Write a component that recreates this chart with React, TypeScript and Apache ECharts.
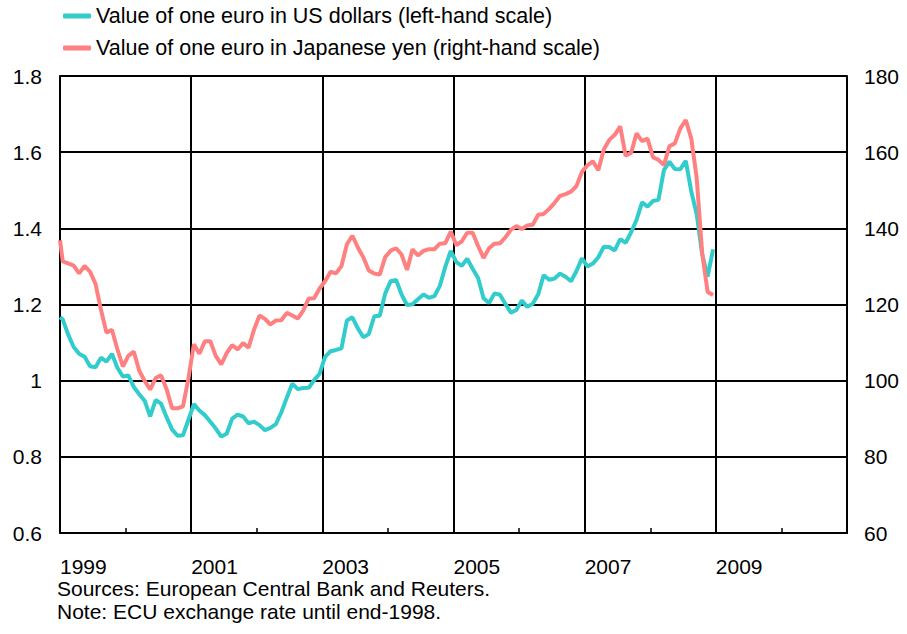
import React, { useEffect, useRef } from "react";
import * as echarts from "echarts";

// Monthly averages; first value = ECU rate at end-1998, then Jan 1999 ... Dec 2008
const usdValues: number[] = [
  1.1666,
  // 1999
  1.1608, 1.1208, 1.0883, 1.0704, 1.0628, 1.0378, 1.0353, 1.0604, 1.0501, 1.0706, 1.0338, 1.011,
  // 2000
  1.0137, 0.9834, 0.9643, 0.947, 0.906, 0.9492, 0.9397, 0.9041, 0.8721, 0.8552, 0.8564, 0.8973,
  // 2001
  0.9383, 0.9217, 0.9095, 0.892, 0.8742, 0.8532, 0.8607, 0.9005, 0.9111, 0.9059, 0.8883, 0.8924,
  // 2002
  0.8833, 0.87, 0.8758, 0.8858, 0.917, 0.9554, 0.9922, 0.9778, 0.9808, 0.9811, 1.0014, 1.0183,
  // 2003
  1.0622, 1.0773, 1.0807, 1.0848, 1.1582, 1.1663, 1.1372, 1.1139, 1.1222, 1.1692, 1.1702, 1.2286,
  // 2004
  1.2613, 1.2646, 1.2262, 1.1985, 1.2007, 1.2138, 1.2266, 1.2176, 1.2218, 1.249, 1.2991, 1.3408,
  // 2005
  1.3119, 1.3014, 1.3201, 1.2938, 1.2694, 1.2165, 1.2037, 1.2292, 1.2256, 1.2015, 1.1786, 1.1856,
  // 2006
  1.2103, 1.1938, 1.202, 1.2271, 1.277, 1.265, 1.2684, 1.2811, 1.2727, 1.2611, 1.2881, 1.3213,
  // 2007
  1.2999, 1.3074, 1.3242, 1.3516, 1.3511, 1.3419, 1.3716, 1.3622, 1.3896, 1.4227, 1.4684, 1.457,
  // 2008
  1.4718, 1.4748, 1.5527, 1.5751, 1.5557, 1.5553, 1.577, 1.4975, 1.437, 1.3322, 1.2732, 1.3449,
];

const jpyValues: number[] = [
  136.9,
  // 1999
  131.32, 130.78, 130.2, 128.16, 130.12, 128.6, 125.4, 118.61, 112.61, 113.38, 108.25, 103.72,
  // 2000
  106.53, 107.64, 102.59, 99.92, 97.67, 100.7, 101.39, 97.77, 92.75, 92.74, 93.26, 100.61,
  // 2001
  109.57, 107.08, 110.33, 110.36, 106.5, 104.3, 107.21, 109.34, 108.2, 109.86, 108.68, 113.38,
  // 2002
  117.12, 116.23, 114.75, 115.81, 115.86, 117.8, 117.11, 116.31, 118.38, 121.57, 121.65, 124.2,
  // 2003
  126.12, 128.6, 128.16, 130.12, 135.83, 138.05, 134.99, 132.38, 128.94, 128.12, 127.84, 132.43,
  // 2004
  134.13, 134.78, 133.13, 129.08, 134.48, 132.86, 134.08, 134.54, 134.51, 135.97, 136.09, 139.14,
  // 2005
  135.63, 136.55, 138.83, 138.84, 135.37, 132.22, 134.75, 135.98, 136.06, 137.66, 139.59, 140.58,
  // 2006
  139.82, 140.77, 140.96, 143.59, 143.79, 145.11, 146.7, 148.53, 148.99, 149.65, 151.11, 154.82,
  // 2007
  156.56, 157.6, 155.24, 160.68, 163.22, 164.55, 166.76, 159.05, 159.82, 164.95, 162.89, 163.55,
  // 2008
  158.68, 157.97, 156.59, 161.56, 162.31, 166.26, 168.45, 163.63, 153.2, 133.52, 123.28, 122.51,
];

const seriesNames = [
  "Value of one euro in US dollars (left-hand scale)",
  "Value of one euro in Japanese yen (right-hand scale)",
];
const xTickYears = [1999, 2001, 2003, 2005, 2007, 2009, 2011];
const leftTicks = [0.6, 0.8, 1.0, 1.2, 1.4, 1.6, 1.8];
const rightTicks = [60, 80, 100, 120, 140, 160, 180];
const footnotes = [
  "Sources: European Central Bank and Reuters.",
  "Note: ECU exchange rate until end-1998.",
];

// Period positions (decimal years): end-1998 ECU point, then each month at mid-month
function periodPosition(i: number): number {
  if (i === 0) return 1999;
  return 1999 + (i - 0.5) / 12;
}

const FONT = "'Liberation Sans', Arial, Helvetica, sans-serif";

export default function App() {
  const ref = useRef<HTMLDivElement>(null);

  useEffect(() => {
    document.body.style.margin = "0";
    if (!ref.current) return;
    const chart = echarts.init(ref.current, undefined, { renderer: "svg" });

    const usdData = usdValues.map((v, i) => [periodPosition(i), v]);
    const jpyData = jpyValues.map((v, i) => [periodPosition(i), v]);

    chart.setOption({
      animation: false,
      backgroundColor: "#ffffff",
      textStyle: { fontFamily: FONT },
      legend: {
        orient: "vertical",
        left: 58,
        top: 0,
        itemWidth: 28,
        itemHeight: 5,
        itemGap: 10,
        icon: "roundRect",
        textStyle: { fontSize: 21.5, lineHeight: 21, color: "#000", fontFamily: FONT },
        data: seriesNames,
      },
      grid: {
        left: 60,
        right: 60,
        top: 76,
        bottom: 101,
        containLabel: false,
        outerBoundsMode: "none",
      },
      xAxis: {
        type: "value",
        min: xTickYears[0],
        max: xTickYears[xTickYears.length - 1],
        interval: 2,
        axisLine: { show: true, lineStyle: { color: "#000", width: 2 } },
        axisTick: { show: true, inside: true, length: 5, lineStyle: { color: "#000", width: 1.5 } },
        minorTick: { show: true, splitNumber: 2, length: 5, lineStyle: { color: "#000", width: 1.5 } },
        splitLine: { show: true, lineStyle: { color: "#000", width: 2 } },
        axisLabel: {
          fontSize: 21,
          lineHeight: 20,
          color: "#000",
          fontFamily: FONT,
          align: "left",
          margin: 23,
          showMaxLabel: false,
          formatter: (v: number) => (v >= 2011 ? "" : String(v)),
        },
      },
      yAxis: [
        {
          type: "value",
          min: leftTicks[0],
          max: leftTicks[leftTicks.length - 1],
          interval: 0.2,
          axisLine: { show: true, lineStyle: { color: "#000", width: 2 } },
          axisTick: { show: false },
          splitLine: { show: true, lineStyle: { color: "#000", width: 2 } },
          axisLabel: {
            fontSize: 21,
            color: "#000",
            fontFamily: FONT,
            margin: 18,
            formatter: (v: number) => String(Math.round(v * 10) / 10),
          },
        },
        {
          type: "value",
          min: rightTicks[0],
          max: rightTicks[rightTicks.length - 1],
          interval: 20,
          position: "right",
          axisLine: { show: true, lineStyle: { color: "#000", width: 2 } },
          axisTick: { show: false },
          splitLine: { show: false },
          axisLabel: { fontSize: 21, color: "#000", fontFamily: FONT, margin: 17 },
        },
      ],
      graphic: footnotes.map((t, i) => ({
        type: "text",
        left: 57,
        top: 578 + i * 23,
        style: { text: t, fontSize: 21, fill: "#000", fontFamily: FONT },
      })),
      series: [
        {
          name: seriesNames[0],
          type: "line",
          yAxisIndex: 0,
          data: usdData,
          showSymbol: false,
          symbol: "none",
          color: "#33CCCC",
          lineStyle: { color: "#33CCCC", width: 4 },
          z: 3,
        },
        {
          name: seriesNames[1],
          type: "line",
          yAxisIndex: 1,
          data: jpyData,
          showSymbol: false,
          symbol: "none",
          color: "#FF8080",
          lineStyle: { color: "#FF8080", width: 4 },
          z: 4,
        },
      ],
    });

    return () => chart.dispose();
  }, []);

  return <div ref={ref} style={{ width: 907, height: 634 }} />;
}
